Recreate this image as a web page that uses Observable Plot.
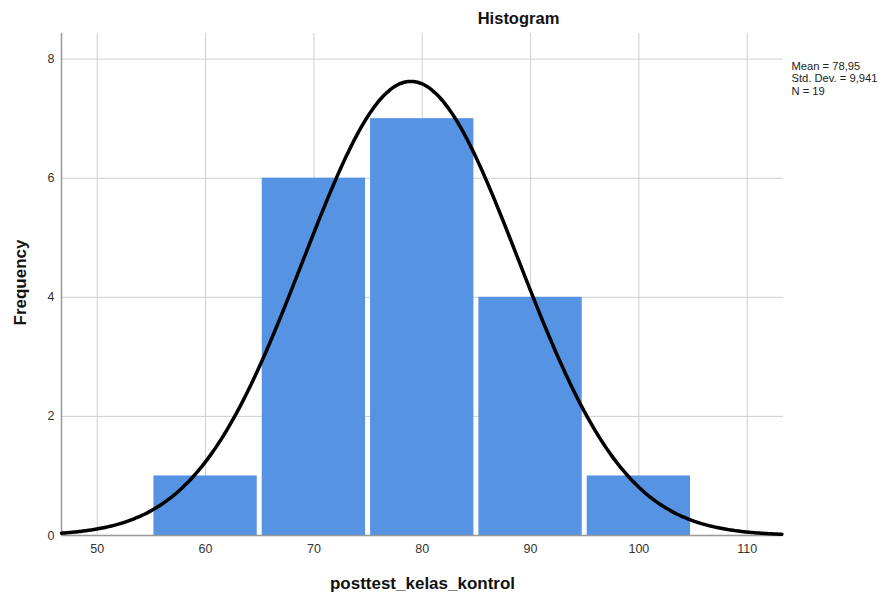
<!DOCTYPE html>
<html>
<head>
<meta charset="utf-8">
<script src="https://cdn.jsdelivr.net/npm/d3@7"></script>
<script src="https://cdn.jsdelivr.net/npm/@observablehq/plot@0.6"></script>
<style>
  html, body { margin: 0; padding: 0; background: #fff; }
  #chart svg { font-family: "Liberation Sans", Arial, sans-serif; }
</style>
</head>
<body>
<div id="chart"></div>
<script>
// ---- data ----
const binStarts = [55, 65, 75, 85, 95];
const binWidth = 10;
const counts = [1, 6, 7, 4, 1];
const xTicks = [50, 60, 70, 80, 90, 100, 110];
const yTicks = [0, 2, 4, 6, 8];
const statLabels = ["Mean = 78,95", "Std. Dev. = 9,941", "N = 19"];
const mean = 78.95, sd = 9.941, n = 19;

const xDomain = [46.7, 113.35];
const yDomain = [0, 8.43];

const bars = binStarts.map((s, i) => ({x1: s, x2: s + binWidth, y: counts[i]}));

// fitted normal curve from the stated mean / SD / N
const curve = d3.range(xDomain[0], xDomain[1] + 0.01, 0.25).map(x => ({
  x, y: n * binWidth * Math.exp(-0.5 * ((x - mean) / sd) ** 2) / (sd * Math.sqrt(2 * Math.PI))
}));

const plot = Plot.plot({
  width: 894,
  height: 598,
  marginLeft: 61,
  marginRight: 111,
  marginTop: 33,
  marginBottom: 63,
  style: {fontFamily: "'Liberation Sans', Arial, sans-serif", background: "#fff"},
  x: {domain: xDomain, label: null},
  y: {domain: yDomain, label: null},
  marks: [
    Plot.gridX(xTicks, {stroke: "#cfcfcf", strokeOpacity: 1}),
    Plot.gridY(yTicks.filter(d => d > 0), {stroke: "#cfcfcf", strokeOpacity: 1}),
    Plot.rectY(bars, {x1: "x1", x2: "x2", y: "y", fill: "#5693e2", insetLeft: 2.5, insetRight: 2.5}),
    Plot.ruleX([xDomain[0]], {stroke: "#999", strokeWidth: 1.5}),
    Plot.ruleY([0], {stroke: "#999", strokeWidth: 1.5}),
    Plot.line(curve, {x: "x", y: "y", stroke: "#000", strokeWidth: 3.5, curve: "natural"}),
    Plot.axisX(xTicks, {tickSize: 0, tickPadding: 9, fontSize: 12.5, fill: "#333", label: null, tickFormat: "d"}),
    Plot.axisY(yTicks, {tickSize: 0, tickPadding: 7, fontSize: 12.5, fill: "#333", label: null, tickFormat: "d"}),
    Plot.text(["Histogram"], {frameAnchor: "top", dx: 96, dy: -21, fontSize: 16.5, fontWeight: "bold", fill: "#111"}),
    Plot.text([statLabels.join("\n")], {frameAnchor: "top-right", dx: 8, dy: 27, textAnchor: "start",
      lineAnchor: "top", fontSize: 11.2, fill: "#222", lineHeight: 1.14}),
    Plot.text(["posttest_kelas_kontrol"], {frameAnchor: "bottom", dy: 53, fontSize: 17, fontWeight: "bold", fill: "#111"}),
    Plot.text(["Frequency"], {frameAnchor: "left", textAnchor: "middle", dx: -41, dy: -2, rotate: -90, fontSize: 17, fontWeight: "bold", fill: "#111"})
  ]
});
document.getElementById("chart").appendChild(plot);
</script>
</body>
</html>
